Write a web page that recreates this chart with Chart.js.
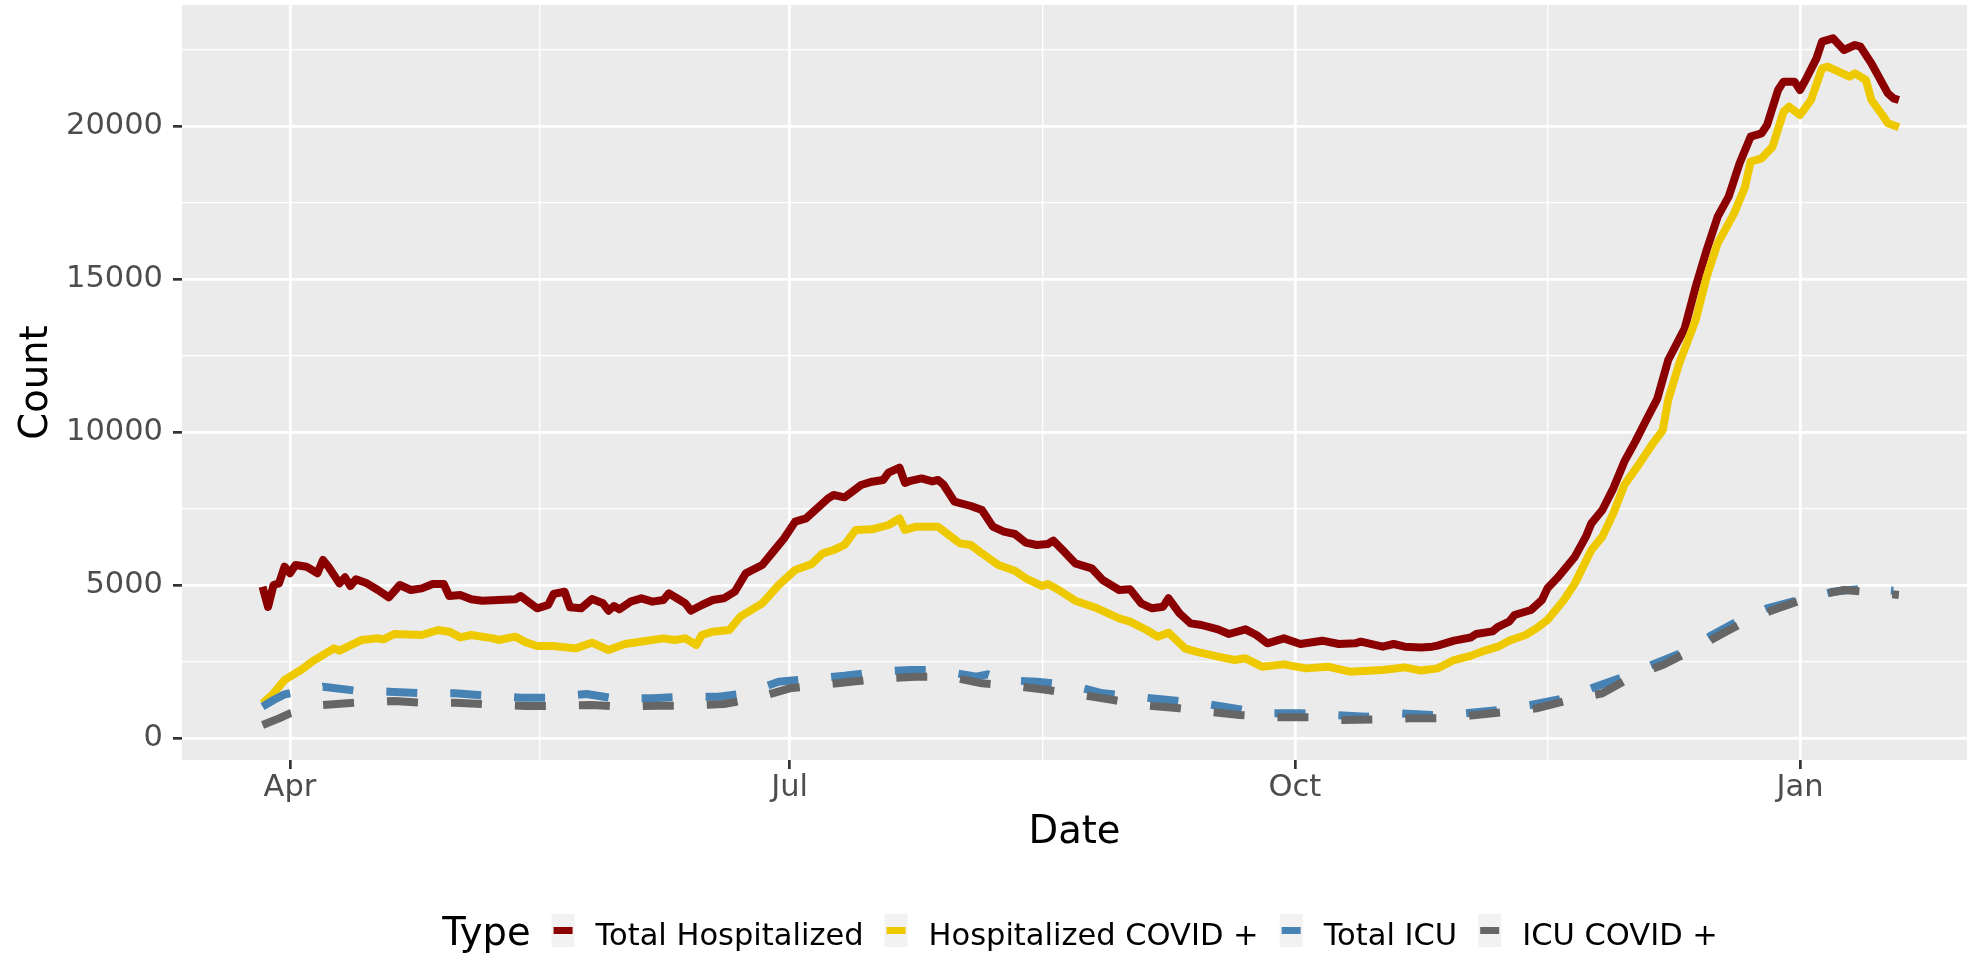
<!DOCTYPE html>
<html>
<head>
<meta charset="utf-8">
<script src="https://cdn.jsdelivr.net/npm/chart.js@4.4.1/dist/chart.umd.min.js"></script>
<style>
  html, body { margin: 0; padding: 0; background: #ffffff; }
  #chart { display: block; }
</style>
</head>
<body>
<canvas id="chart" width="1967" height="953"></canvas>
<script>
// x values are days counted from 2020-04-01
var totalHospDays = [-5,-4,-3,-2,-1,0,1,3,5,6,7,9,10,11,12,14,16,18,20,22,24,26,28,29,31,33,35,38,41,42,
  45,47,48,50,51,53,55,57,58,59,60,62,64,66,68,69,71,72,73,75,77,79,81,83,86,88,90,92,94,98,
  99,101,104,106,108,109,111,112,113,115,117,118,119,121,124,126,128,130,132,134,
  136,138,139,141,143,146,148,151,153,155,157,159,160,162,164,166,169,171,174,176,
  178,181,184,188,191,194,195,199,201,203,206,208,209,212,215,216,219,220,222,223,
  226,228,229,231,234,236,237,239,241,243,245,247,249,251,254,256,258,260,262,264,
  266,268,269,271,272,274,275,276,278,279,281,283,285,286,288,289,291,292,293];
var totalHosp = [4960,4300,5016,5070,5615,5400,5670,5615,5400,5833,5615,5070,5267,4984,5201,5070,4853,4613,5016,4853,
  4907,5049,5049,4657,4689,4548,4504,4526,4548,4657,4254,4363,4722,4798,4286,4254,4559,4417,4177,4330,
  4221,4472,4581,4472,4526,4744,4526,4417,4177,4363,4526,4581,4798,5397,5670,6106,6542,7086,7195,7848,
  7957,7881,8284,8393,8447,8690,8850,8350,8420,8500,8400,8450,8300,7740,7598,7467,6923,6759,6683,6400,
  6324,6356,6465,6106,5724,5561,5180,4853,4874,4417,4254,4308,4581,4090,3763,3709,3567,3415,3567,3382,
  3110,3273,3088,3197,3088,3110,3164,3001,3088,3001,2975,3001,3034,3200,3300,3415,3500,3650,3818,4036,
  4199,4526,4907,5288,5942,6596,7031,7467,8175,9047,9700,10408,11100,12369,13405,14765,15964,17053,17707,18797,
  19668,19777,20049,21193,21465,21465,21193,21520,22228,22773,22882,22500,22663,22609,22064,21737,21083,20921,20866];

var hospCovidDays = [-5,-3,-1,0,2,4,8,9,13,16,17,19,24,27,29,31,33,37,38,41,
  43,45,48,52,55,58,61,65,68,70,72,74,75,77,80,82,86,89,92,95,
  97,99,101,103,106,109,111,112,114,118,120,122,124,126,129,132,134,137,138,140,
  143,147,151,153,156,158,160,163,165,169,172,174,177,181,185,189,193,199,203,206,
  209,212,215,217,220,222,225,227,229,232,234,237,239,241,243,246,248,250,251,253,
  256,258,260,263,265,266,268,270,272,273,275,277,279,280,284,285,287,288,290,291,293];
var hospCovid = [1149,1475,1911,2020,2238,2510,2946,2870,3218,3273,3240,3415,3382,3545,3491,3306,3382,3273,3218,3328,
  3142,3022,3022,2946,3131,2892,3088,3197,3273,3218,3273,3055,3382,3491,3545,3981,4417,5016,5506,5700,
  6051,6160,6324,6814,6836,6977,7195,6814,6923,6923,6651,6378,6324,6051,5670,5484,5234,4983,5049,4853,
  4504,4254,3927,3818,3545,3327,3458,2946,2837,2674,2565,2620,2347,2423,2292,2347,2184,2238,2325,2220,
  2292,2565,2700,2837,3001,3197,3382,3600,3872,4526,5070,6160,6596,7358,8284,9047,9591,10081,11070,12261,
  13676,15092,16182,17163,18033,18850,18960,19341,20484,20648,20376,20866,21901,21955,21629,21737,21520,20866,20376,20104,19974];

var totalIcuDays = [-5,-3,-1,6,12,18,24,30,36,42,47,54,59,66,72,78,83,89,94,101,
  107,113,118,125,127,130,136,142,148,154,160,166,172,177,184,190,196,202,208,213,
  220,226,232,237,243,248,254,259,264,269,276,281,287,292];
var totalIcu = [1040,1258,1443,1694,1563,1530,1476,1476,1400,1334,1334,1454,1312,1312,1367,1367,1476,1857,1940,2050,
  2184,2238,2238,2020,2097,1912,1857,1748,1476,1367,1258,1149,985,822,822,768,713,822,768,800,
  931,1095,1312,1639,2020,2401,2837,3382,3872,4254,4581,4798,4907,4830];

var icuCovidDays = [-5,-2,0,6,12,19,24,30,36,43,48,55,60,67,72,79,84,91,95,103,
  108,114,120,126,132,138,143,150,155,162,167,173,179,186,191,198,204,210,215,222,
  227,233,239,245,250,256,261,266,271,277,283,289,293];
var icuCovid = [441,659,822,1095,1171,1225,1171,1171,1116,1062,1062,1095,1040,1073,1073,1127,1280,1640,1720,1870,
  1966,2020,2020,1803,1716,1585,1454,1258,1095,985,877,768,691,691,604,626,659,659,750,877,
  985,1258,1476,2075,2401,2946,3436,3927,4254,4635,4853,4766,4689];

var seriesNames = ["Total Hospitalized", "Hospitalized COVID +", "Total ICU", "ICU COVID +"];
var monthDays = [0, 91, 183, 275];
var monthLabels = ["Apr", "Jul", "Oct", "Jan"];
var countTicks = [0, 5000, 10000, 15000, 20000];
var legendTitle = "Type";

var FONT = "'DejaVu Sans', 'Liberation Sans', sans-serif";

function toPoints(days, values) {
  return days.map(function (d, i) { return { x: d, y: values[i] }; });
}

// major breaks plus the minor ones halfway between them
var xBreaks = [];
monthDays.forEach(function (d, i) {
  xBreaks.push(d);
  if (i < monthDays.length - 1) xBreaks.push((d + monthDays[i + 1]) / 2);
});
var yBreaks = [];
countTicks.forEach(function (v) { yBreaks.push(v); yBreaks.push(v + 2500); });

function isMajorX(v) { return monthDays.indexOf(v) !== -1; }
function isMajorY(v) { return countTicks.indexOf(v) !== -1; }

var panelBg = {
  id: "panelBg",
  beforeDraw: function (chart) {
    var a = chart.chartArea;
    var ctx = chart.ctx;
    ctx.save();
    ctx.fillStyle = "#EBEBEB";
    ctx.fillRect(a.left, a.top, a.right - a.left, a.bottom - a.top);
    ctx.restore();
  }
};

var ggLegend = {
  id: "ggLegend",
  afterDraw: function (chart) {
    var ctx = chart.ctx;
    var sets = chart.data.datasets;
    var gap = 21, keyW = 23, keyH = 33, midY = 930.5, baseY = 944.5;
    ctx.save();
    ctx.font = "38.5px " + FONT;
    var titleW = ctx.measureText(legendTitle).width;
    ctx.font = "30.5px " + FONT;
    var widths = sets.map(function (d) { return ctx.measureText(d.label).width; });
    var total = titleW;
    widths.forEach(function (w) { total += gap * 2 + keyW + w; });
    var x = 1080 - total / 2;

    ctx.fillStyle = "#000000";
    ctx.textBaseline = "alphabetic";
    ctx.textAlign = "left";
    ctx.font = "38.5px " + FONT;
    ctx.fillText(legendTitle, x, baseY);
    x += titleW + gap;

    ctx.font = "30.5px " + FONT;
    sets.forEach(function (d, i) {
      ctx.fillStyle = "#F2F2F2";
      ctx.fillRect(x, midY - keyH / 2, keyW, keyH);
      ctx.strokeStyle = d.borderColor;
      ctx.lineWidth = 7;
      ctx.lineCap = "butt";
      ctx.setLineDash([]);
      ctx.beginPath();
      ctx.moveTo(x + 2, midY);
      ctx.lineTo(x + keyW - 2, midY);
      ctx.stroke();
      x += keyW + gap;
      ctx.fillStyle = "#000000";
      ctx.fillText(d.label, x, baseY);
      x += widths[i] + gap;
    });
    ctx.restore();
  }
};

var lineStyle = { borderWidth: 8, pointRadius: 0, tension: 0, borderJoinStyle: "round", borderCapStyle: "butt", fill: false };

var ctx = document.getElementById("chart").getContext("2d");
var chart = new Chart(ctx, {
  type: "line",
  data: {
    datasets: [
      Object.assign({ label: seriesNames[0], data: toPoints(totalHospDays, totalHosp), borderColor: "#8B0000", order: 4 }, lineStyle),
      Object.assign({ label: seriesNames[1], data: toPoints(hospCovidDays, hospCovid), borderColor: "#EEC900", order: 3 }, lineStyle),
      Object.assign({ label: seriesNames[2], data: toPoints(totalIcuDays, totalIcu), borderColor: "#4682B4", borderDash: [31, 33], order: 2 }, lineStyle),
      Object.assign({ label: seriesNames[3], data: toPoints(icuCovidDays, icuCovid), borderColor: "#666666", borderDash: [31, 33], order: 1 }, lineStyle)
    ]
  },
  options: {
    responsive: false,
    animation: false,
    devicePixelRatio: 1,
    layout: { padding: { top: 5, right: 0, bottom: 94, left: 0 } },
    plugins: { legend: { display: false }, tooltip: { enabled: false } },
    scales: {
      x: {
        type: "linear",
        min: -19.67,
        max: 305.41,
        afterBuildTicks: function (scale) {
          scale.ticks = xBreaks.map(function (v) { return { value: v }; });
        },
        afterFit: function (scale) {
          scale.height = 99;
          scale.paddingLeft = 0;
          scale.paddingRight = 0;
        },
        border: { display: false },
        grid: {
          color: "#FFFFFF",
          lineWidth: function (c) { return c.tick && isMajorX(c.tick.value) ? 2.7 : 1.35; },
          tickColor: function (c) { return c.tick && isMajorX(c.tick.value) ? "#333333" : "rgba(0,0,0,0)"; },
          tickLength: 9,
          tickWidth: 2.7
        },
        ticks: {
          autoSkip: false,
          maxRotation: 0,
          minRotation: 0,
          padding: 1,
          color: "#4D4D4D",
          font: { family: FONT, size: 30.5 },
          callback: function (v) {
            var i = monthDays.indexOf(v);
            return i === -1 ? "" : monthLabels[i];
          }
        },
        title: {
          display: true,
          text: "Date",
          color: "#000000",
          font: { family: FONT, size: 38.5 },
          padding: { top: 0, bottom: 2.5 }
        }
      },
      y: {
        type: "linear",
        min: -702.6,
        max: 23970.6,
        afterBuildTicks: function (scale) {
          scale.ticks = yBreaks.map(function (v) { return { value: v }; });
        },
        afterFit: function (scale) {
          scale.width = 182;
          scale.paddingTop = 0;
          scale.paddingBottom = 0;
        },
        border: { display: false },
        grid: {
          color: "#FFFFFF",
          lineWidth: function (c) { return c.tick && isMajorY(c.tick.value) ? 2.7 : 1.35; },
          tickColor: function (c) { return c.tick && isMajorY(c.tick.value) ? "#333333" : "rgba(0,0,0,0)"; },
          tickLength: 9,
          tickWidth: 2.7
        },
        ticks: {
          autoSkip: false,
          padding: 10,
          color: "#4D4D4D",
          font: { family: FONT, size: 30.5 },
          callback: function (v) { return isMajorY(v) ? String(v) : ""; }
        },
        title: {
          display: true,
          text: "Count",
          color: "#000000",
          font: { family: FONT, size: 38.5 },
          padding: { top: 13.5, bottom: 0 }
        }
      }
    }
  },
  plugins: [panelBg, ggLegend]
});
</script>
</body>
</html>
